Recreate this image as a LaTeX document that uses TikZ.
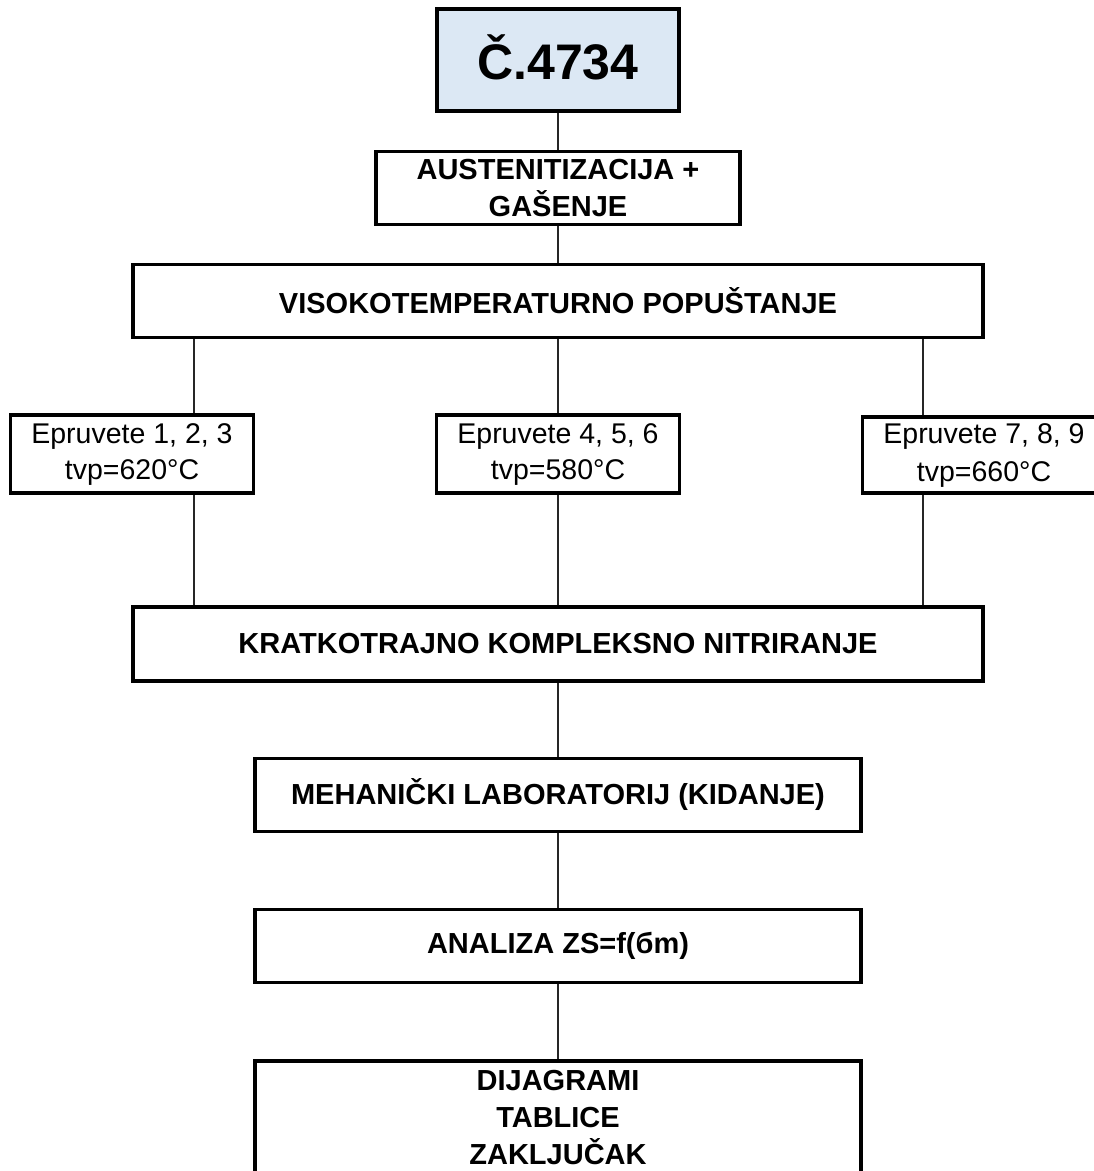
\documentclass[tikz,border=0pt]{standalone}
\usepackage{fontspec}
\setmainfont{Liberation Sans}
\definecolor{headblue}{RGB}{220,232,244}
\begin{document}
\begin{tikzpicture}[x=1pt,y=-1pt,
  box/.style={draw=black, line width=3.5pt, inner sep=0pt, align=center,
    font=\bfseries\fontsize{29}{37}\selectfont},
  ebox/.style={box, font=\fontsize{28.5}{37}\selectfont},
  conn/.style={line width=1.8pt, draw=black!85}]
\useasboundingbox (0,0) rectangle (1094,1171);
% boxes
\node[box, fill=headblue, minimum width=242, minimum height=102,
  font=\bfseries\fontsize{50}{60}\selectfont] (c) at (558,60) {\raisebox{5pt}{Č.4734}};
\node[box, minimum width=364, minimum height=73] (aus) at (558,188) {AUSTENITIZACIJA +\\GAŠENJE};
\node[box, minimum width=850, minimum height=73] (vis) at (558,301) {VISOKOTEMPERATURNO POPUŠTANJE};
\node[ebox, minimum width=243, minimum height=78] (e1) at (132,454) {\raisebox{-3pt}{Epruvete 1, 2, 3}\\\raisebox{-2pt}{tvp=620°C}};
\node[ebox, minimum width=243, minimum height=78] (e4) at (558,454) {\raisebox{-3pt}{Epruvete 4, 5, 6}\\\raisebox{-2pt}{tvp=580°C}};
\node[ebox, minimum width=243, minimum height=76] (e7) at (984,455) {\raisebox{-5pt}{Epruvete 7, 8, 9}\\\raisebox{-6pt}{tvp=660°C}};
\node[box, minimum width=850, minimum height=74] (kr) at (558,644) {KRATKOTRAJNO KOMPLEKSNO NITRIRANJE};
\node[box, minimum width=606, minimum height=73] (meh) at (558,795) {MEHANIČKI LABORATORIJ (KIDANJE)};
\node[box, minimum width=606, minimum height=73] (an) at (558,946) {ANALIZA ZS=f(бm)};
\node[box, minimum width=606, inner ysep=9pt, anchor=north] (dij) at (558,1059) {DIJAGRAMI\\TABLICE\\ZAKLJUČAK\\~};
% connectors
\coordinate (xl) at (194,0);
\coordinate (xr) at (923,0);
\draw[conn] (c.south) -- (aus.north);
\draw[conn] (aus.south) -- (vis.north);
\draw[conn] (vis.south -| xl) -- (e1.north -| xl);
\draw[conn] (vis.south) -- (e4.north);
\draw[conn] (vis.south -| xr) -- (e7.north -| xr);
\draw[conn] (e1.south -| xl) -- (kr.north -| xl);
\draw[conn] (e4.south) -- (kr.north);
\draw[conn] (e7.south -| xr) -- (kr.north -| xr);
\draw[conn] (kr.south) -- (meh.north);
\draw[conn] (meh.south) -- (an.north);
\draw[conn] (an.south) -- (dij.north);
\end{tikzpicture}
\end{document}
